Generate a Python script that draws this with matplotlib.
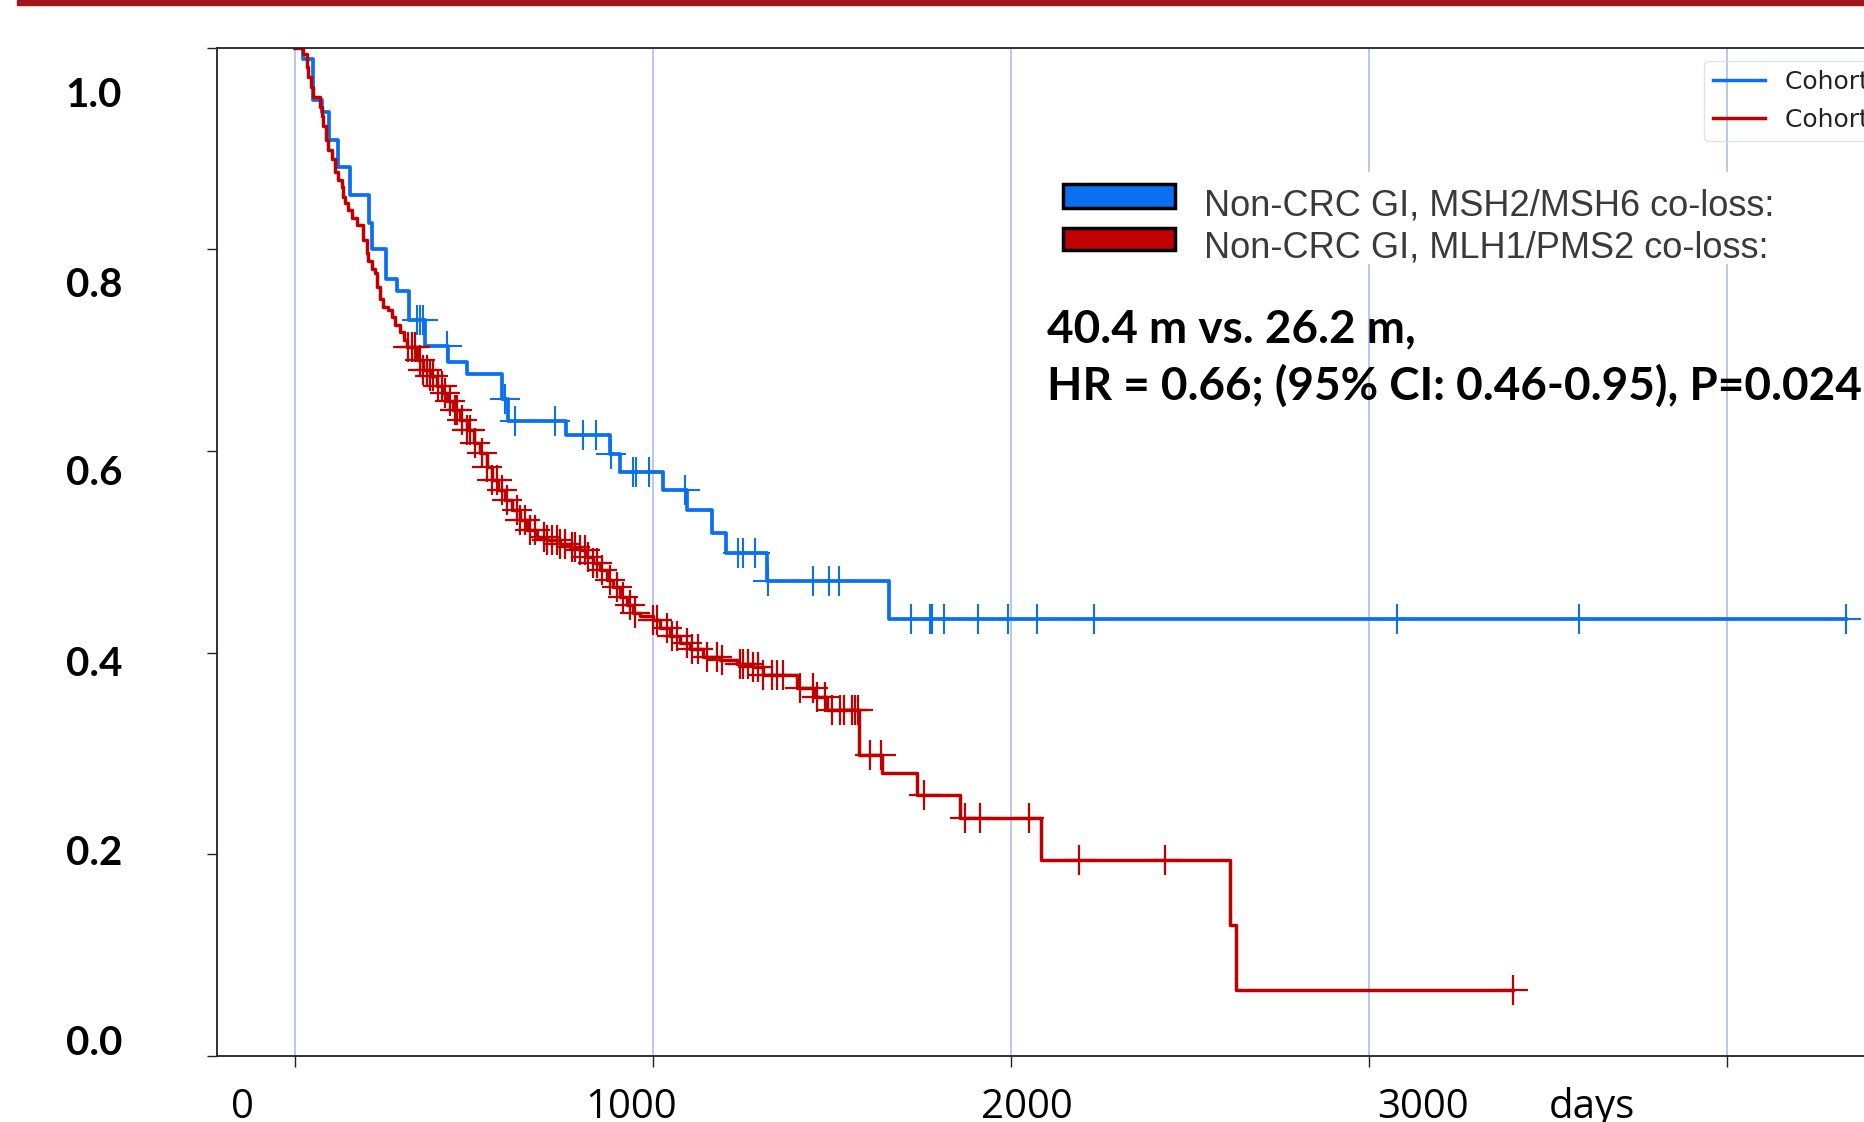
import numpy as np
import matplotlib
matplotlib.use("Agg")
import matplotlib.pyplot as plt
from matplotlib.patches import Rectangle
from matplotlib.lines import Line2D

# Kaplan-Meier curves: step days and survival after each drop
msh_days = [0, 23, 51, 75, 96, 121, 154, 207, 216, 254, 284, 318, 363, 428, 479,
            577, 596, 756, 879, 908, 1029, 1094, 1164, 1203, 1318, 1660, 4333]
msh_surv = [1.0, 0.989, 0.948, 0.936, 0.908, 0.882, 0.854, 0.826, 0.800, 0.771, 0.759,
            0.730, 0.704, 0.688, 0.676, 0.651, 0.630, 0.616, 0.597, 0.579, 0.561,
            0.541, 0.519, 0.499, 0.471, 0.433, 0.433]
msh_cens = [340, 349, 356, 424, 586, 613, 726, 804, 841, 882, 943, 952, 989, 1089,
            1236, 1250, 1285, 1322, 1447, 1491, 1519, 1720, 1774, 1778, 1813, 1908,
            1992, 2071, 2231, 3078, 3586, 4333]

mlh_days = [0, 23, 33, 37, 44, 51, 70, 75, 79, 87, 93, 102, 112, 121, 130, 135, 140,
            149, 158, 172, 191, 202, 205, 214, 223, 230, 237, 247, 261, 270, 279, 293,
            303, 312, 340, 358, 377, 396, 414, 424, 442, 461, 480, 499, 517, 535, 549,
            568, 587, 605, 629, 647, 675, 703, 740, 768, 796, 815, 833, 852, 870, 889,
            908, 926, 945, 964, 1001, 1019, 1047, 1075, 1103, 1140, 1187, 1234, 1280,
            1308, 1401, 1450, 1485, 1576, 1639, 1737, 1856, 2084, 2611, 2627, 3402]
mlh_surv = [1.0, 0.994, 0.981, 0.971, 0.961, 0.951, 0.941, 0.932, 0.922, 0.908, 0.899,
            0.890, 0.877, 0.869, 0.862, 0.852, 0.846, 0.839, 0.831, 0.824, 0.809, 0.796,
            0.788, 0.780, 0.776, 0.763, 0.751, 0.743, 0.740, 0.733, 0.725, 0.718, 0.710,
            0.703, 0.690, 0.680, 0.674, 0.664, 0.657, 0.650, 0.641, 0.631, 0.621, 0.608,
            0.598, 0.584, 0.571, 0.561, 0.551, 0.541, 0.531, 0.522, 0.515, 0.512, 0.508,
            0.505, 0.502, 0.495, 0.489, 0.482, 0.472, 0.465, 0.455, 0.447, 0.439, 0.436,
            0.432, 0.424, 0.416, 0.409, 0.403, 0.396, 0.393, 0.389, 0.386, 0.378, 0.365,
            0.356, 0.343, 0.298, 0.280, 0.259, 0.236, 0.194, 0.130, 0.065, 0.065]
mlh_cens = [316, 326, 335, 349, 358, 368, 377, 386, 400, 410, 419, 433, 447, 452, 466,
            480, 489, 503, 521, 535, 549, 563, 577, 591, 619, 629, 642, 656, 670, 694,
            703, 717, 731, 740, 754, 773, 782, 796, 810, 819, 833, 843, 857, 880, 898,
            917, 936, 950, 1001, 1010, 1038, 1052, 1066, 1094, 1108, 1126, 1150, 1178,
            1192, 1243, 1252, 1266, 1280, 1294, 1308, 1331, 1345, 1364, 1411, 1448, 1457,
            1480, 1499, 1522, 1532, 1555, 1564, 1571, 1606, 1636, 1757, 1871, 1914, 2051,
            2190, 2430, 3402]

x_ticks = [0, 1000, 2000, 3000, 4000]
y_ticks = [0.0, 0.2, 0.4, 0.6, 0.8, 1.0]
y_labels = ["1.0", "0.8", "0.6", "0.4", "0.2", "0.0"]
x_labels = ["0", "1000", "2000", "3000"]
cohort_names = ["Cohort 1", "Cohort 2"]
group_names = ["Non-CRC GI, MSH2/MSH6 co-loss:", "Non-CRC GI, MLH1/PMS2 co-loss:"]
stats_lines = ["40.4 m vs. 26.2 m,", "HR = 0.66; (95% CI: 0.46-0.95), P=0.024"]

BLUE = "#0a6ff0"
RED = "#c00000"

W, H = 1864, 1122
fig = plt.figure(figsize=(W / 100, H / 100), dpi=100)

def fx(px):
    return px / W

def fy(py):
    return 1 - py / H

# axes placed where the screenshot had them (right side runs past the edge)
ax = fig.add_axes([fx(217), fy(1055.7), fx(1725), 1008 / H])
ax.set_xlim(-218, 4600)
ax.set_ylim(0, 1)
ax.set_xticks(x_ticks)
ax.set_yticks(y_ticks)
ax.set_xticklabels([])
ax.set_yticklabels([])
ax.xaxis.grid(True, color="#a5b8e8", lw=1.1)
ax.set_axisbelow(True)
ax.tick_params(axis="x", length=8, width=1.0, color="#222222")
ax.tick_params(axis="y", length=7, width=1.0, color="#222222")
for s in ax.spines.values():
    s.set_color("#222222")
    s.set_linewidth(1.3)

def censor_y(days, surv, t):
    i = np.searchsorted(days, t, side="right") - 1
    return np.array(surv)[i]

ax.step(msh_days, msh_surv, where="post", color=BLUE, lw=2.7)
ax.plot(msh_cens, censor_y(msh_days, msh_surv, msh_cens), "+", color=BLUE, ms=21, mew=1.5)
ax.step(mlh_days, mlh_surv, where="post", color=RED, lw=2.5)
ax.plot(mlh_cens, censor_y(mlh_days, mlh_surv, mlh_cens), "+", color=RED, ms=21, mew=1.6)

leg = ax.legend([Line2D([], [], color=BLUE, lw=2.5), Line2D([], [], color=RED, lw=2.5)],
                cohort_names, loc="upper left", bbox_to_anchor=(fx(1704), fy(61)),
                bbox_transform=fig.transFigure, fontsize=18, handlelength=2.1,
                handletextpad=0.8, labelspacing=0.57, borderpad=0.35, borderaxespad=0,
                facecolor="none", edgecolor="#d5dcef", fancybox=True)
for t in leg.get_texts():
    t.set_color("#222222")

# white box of the pasted legend, hiding the grid
fig.add_artist(Rectangle((fx(1030), fy(263)), fx(770), (263 - 172) / H,
                         transform=fig.transFigure, color="white", zorder=2))

# top red bar
fig.add_artist(Rectangle((fx(17), fy(5)), fx(W), 5 / H, transform=fig.transFigure,
                         color="#a3151b", zorder=3))

# pasted group legend
for (top, bot), base, col, name in zip([(184, 208), (228, 250)], [216, 257],
                                       [BLUE, RED], group_names):
    fig.add_artist(Rectangle((fx(1063), fy(bot)), fx(112), (bot - top) / H,
                             transform=fig.transFigure, facecolor=col,
                             edgecolor="black", lw=2.5, zorder=4))
    fig.text(fx(1204), fy(base), name, fontsize=26, family="Liberation Sans",
             color="#3a3a3a", va="baseline", ha="left", zorder=5)

# stats text
for base, line in zip([342, 400], stats_lines):
    fig.text(fx(1047), fy(base), line, fontsize=33, family="Lato", weight="bold",
             va="baseline", ha="left", zorder=5)

# pasted y labels
for base, lab in zip([107.3, 296.7, 485.4, 675.7, 864.7, 1054.9], y_labels):
    fig.text(fx(122), fy(base), lab, fontsize=29, family="Lato", weight="bold",
             va="baseline", ha="right", zorder=5)

# pasted x labels
for cx, lab in zip([242, 631, 1027, 1423], x_labels):
    fig.text(fx(cx), fy(1118), lab, fontsize=29, family="Open Sans",
             va="baseline", ha="center", zorder=5)
fig.text(fx(1549), fy(1118), "days", fontsize=29, family="Open Sans",
         va="baseline", ha="left", zorder=5)

fig.savefig("out.png", dpi=100)
